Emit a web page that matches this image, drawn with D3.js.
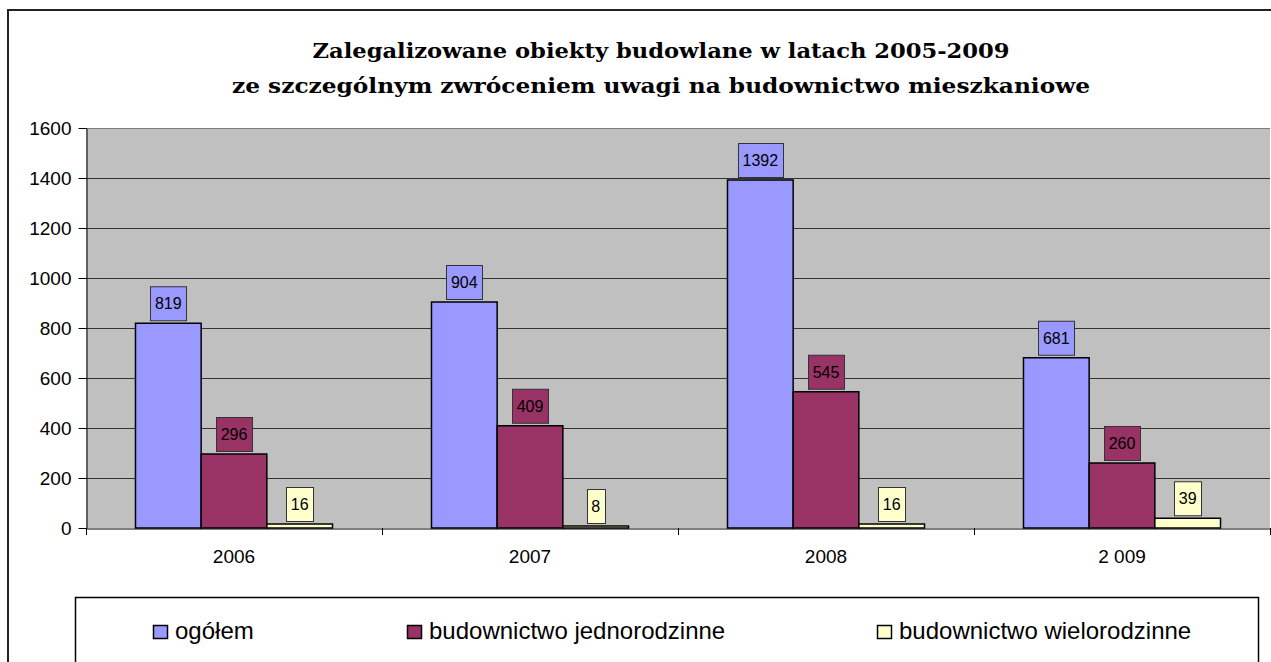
<!DOCTYPE html>
<html><head><meta charset="utf-8">
<script src="https://cdn.jsdelivr.net/npm/d3@7/dist/d3.min.js"></script>
<style>body{margin:0;background:#fff}svg{display:block}</style>
</head><body>
<script>
const categories = ["2006", "2007", "2008", "2 009"];
const seriesNames = ["ogółem", "budownictwo jednorodzinne", "budownictwo wielorodzinne"];
const ogolem = [819, 904, 1392, 681];
const jednorodzinne = [296, 409, 545, 260];
const wielorodzinne = [16, 8, 16, 39];
const yTicks = [0, 200, 400, 600, 800, 1000, 1200, 1400, 1600];
const titleLines = ["Zalegalizowane obiekty budowlane w latach 2005-2009", "ze szczególnym zwróceniem uwagi na budownictwo mieszkaniowe"];

const seriesValues = [ogolem, jednorodzinne, wielorodzinne];
const colors = ["#9999FF", "#993366", "#FFFFCC"];

const W = 1271, H = 662;
const svg = d3.select("body").append("svg").attr("width", W).attr("height", H);
const sans = "Liberation Sans, Arial, sans-serif";

// outer chart frame
svg.append("path").attr("d", `M8,${H+5} L8,10 L${W+5},10`).attr("fill", "none").attr("stroke", "#222").attr("stroke-width", 2);

// title
const titleLens = [697, 858];
const titleY = [58, 93];
titleLines.forEach((t, i) => {
  svg.append("text").attr("x", 661).attr("y", titleY[i])
    .attr("text-anchor", "middle").attr("font-family", "DejaVu Serif").attr("font-weight", "bold")
    .attr("font-size", 20).attr("textLength", titleLens[i]).attr("lengthAdjust", "spacingAndGlyphs")
    .attr("fill", "#000").text(t);
});

const pLeft = 86, pRight = 1270, pTop = 128, pBottom = 528;
const y = d3.scaleLinear().domain([0, 1600]).range([pBottom, pTop]);
const x0 = d3.scaleBand().domain(categories).range([pLeft, pRight]).padding(0);
const bw = x0.bandwidth();
const x1 = d3.scaleBand().domain(seriesNames).range([bw * 0.1672, bw * 0.8328]).padding(0);

svg.append("rect").attr("x", pLeft).attr("y", pTop).attr("width", pRight - pLeft).attr("height", pBottom - pTop).attr("fill", "#C0C0C0");

// gridlines
svg.append("g").selectAll("line").data(yTicks.filter(d => d > 0)).join("line")
  .attr("x1", pLeft).attr("x2", pRight).attr("y1", d => y(d) + 0.5).attr("y2", d => y(d) + 0.5)
  .attr("stroke", d => d === 1600 ? "#808080" : "#333").attr("stroke-width", 1);

// y axis
const yAxis = svg.append("g").attr("transform", `translate(${pLeft + 0.5},0)`)
  .call(d3.axisLeft(y).tickValues(yTicks).tickFormat(d3.format("d")).tickSize(8).tickSizeOuter(0).tickPadding(7));
yAxis.select(".domain").attr("stroke", "#000");
yAxis.selectAll(".tick line").attr("stroke", "#000");
yAxis.selectAll("text").attr("font-family", sans).attr("font-size", 19).attr("fill", "#000");

// bars
categories.forEach((c, ci) => {
  const g = svg.append("g").attr("transform", `translate(${x0(c)},0)`);
  seriesNames.forEach((s, si) => {
    const v = seriesValues[si][ci];
    g.append("rect").attr("x", x1(s)).attr("y", y(v)).attr("width", x1.bandwidth()).attr("height", pBottom - y(v))
      .attr("fill", colors[si]).attr("stroke", "#000").attr("stroke-width", 1.5);
  });
});

// x axis
const xAxis = svg.append("g").attr("transform", `translate(0,${pBottom + 0.5})`)
  .call(d3.axisBottom(x0).tickSize(0).tickPadding(21));
xAxis.select(".domain").attr("stroke", "#000");
xAxis.selectAll("text").attr("font-family", sans).attr("font-size", 19).attr("fill", "#000");
svg.append("g").selectAll("line").data(d3.range(categories.length + 1)).join("line")
  .attr("x1", i => pLeft + i * bw + 0.5).attr("x2", i => pLeft + i * bw + 0.5)
  .attr("y1", pBottom).attr("y2", pBottom + 7).attr("stroke", "#000");

// data labels
categories.forEach((c, ci) => {
  seriesNames.forEach((s, si) => {
    const v = seriesValues[si][ci];
    const cx = x0(c) + x1(s) + x1.bandwidth() / 2;
    const g = svg.append("g");
    const t = g.append("text").attr("x", cx).attr("y", y(v) - 3 - 11)
      .attr("text-anchor", "middle").attr("font-family", sans)
      .attr("font-size", 16).attr("fill", "#000").text(v);
    const tw = t.node().getComputedTextLength();
    const bwid = Math.round(tw + 9);
    g.insert("rect", "text").attr("x", Math.round(cx - bwid / 2) + 0.5).attr("y", y(v) - 3 - 34 + 0.5)
      .attr("width", bwid).attr("height", 34).attr("fill", colors[si]).attr("stroke", "#333").attr("stroke-width", 1);
  });
});

// legend
svg.append("rect").attr("x", 75.5).attr("y", 597.5).attr("width", 1183).attr("height", 80)
  .attr("fill", "#fff").attr("stroke", "#000").attr("stroke-width", 1.5);
const legX = [153, 407, 877];
seriesNames.forEach((s, i) => {
  svg.append("rect").attr("x", legX[i] + 0.5).attr("y", 625.5).attr("width", 14).attr("height", 13)
    .attr("fill", colors[i]).attr("stroke", "#000").attr("stroke-width", 1.5);
  svg.append("text").attr("x", legX[i] + 22).attr("y", 639)
    .attr("font-family", sans).attr("font-size", 24).attr("fill", "#000").text(s);
});
</script>
</body></html>
